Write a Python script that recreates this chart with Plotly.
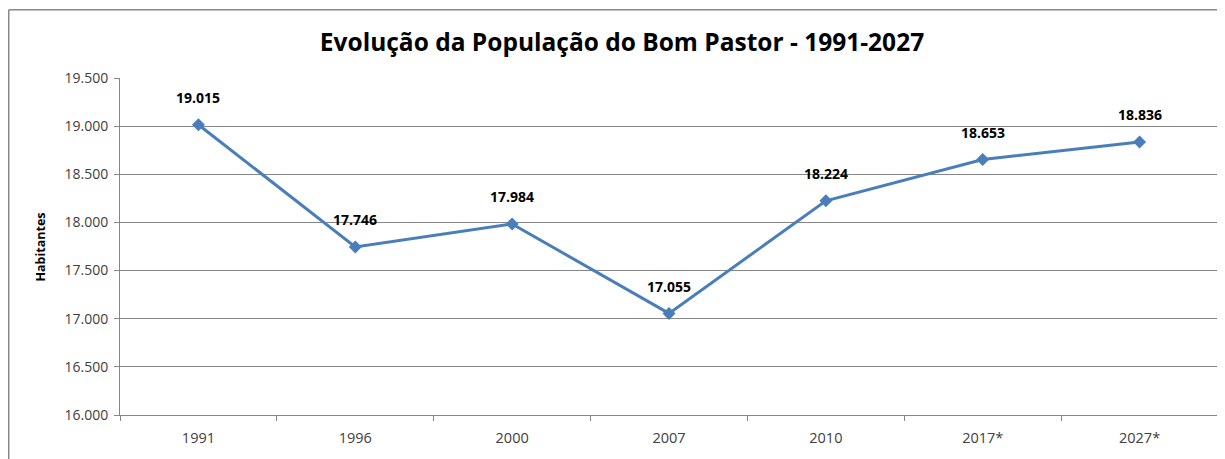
import plotly.graph_objects as go

years = ["1991", "1996", "2000", "2007", "2010", "2017*", "2027*"]
population = [19015, 17746, 17984, 17055, 18224, 18653, 18836]
title_text = "Evolução da População do Bom Pastor - 1991-2027"
y_title = "Habitantes"

# page body has an 8px margin; compensate
OFF = 8
W, H = 1225 - OFF, 459 - OFF
ml, mr, mt, mb = 120 - OFF, 7, 78 - OFF, 44
pw = W - ml - mr
ph = H - mt - mb

fig = go.Figure()
fig.add_trace(go.Scatter(
    x=years, y=population, mode="lines+markers",
    line=dict(color="#4A7EBB", width=3),
    marker=dict(symbol="diamond", size=10, color="#4A7EBB"),
    hoverinfo="skip", showlegend=False,
))

for i, v in enumerate(population):
    fig.add_annotation(
        x=i, y=v, xref="x", yref="y", text=f"{v:,}".replace(",", "."), showarrow=False,
        yshift=27, font=dict(family="Open Sans", size=14, color="#000000", weight="bold"),
    )

fig.add_annotation(
    x=(40 - OFF - ml) / pw, y=0.5, xref="paper", yref="paper",
    text=f"<b>{y_title}</b>", textangle=-90, showarrow=False,
    xanchor="center", yanchor="middle",
    font=dict(family="Open Sans", size=12.5, color="#000000"),
)

fig.update_layout(
    width=W, height=H,
    margin=dict(l=ml, r=mr, t=mt, b=mb, autoexpand=False),
    paper_bgcolor="white", plot_bgcolor="white",
    separators=",.",
    title=dict(text=f"<b>{title_text}</b>", x=(622 - OFF) / W, xref="container",
               xanchor="center", y=1 - (42 - OFF) / H, yanchor="middle",
               font=dict(family="Open Sans", size=24.5, color="#000000")),
    xaxis=dict(
        type="category", tickson="boundaries", ticks="outside", ticklen=5,
        tickcolor="#868686", showline=True, linecolor="#868686", linewidth=1,
        showgrid=False, tickfont=dict(family="Open Sans", size=14.5, color="#404040"),
        ticklabelstandoff=10,
        range=[-0.5, 6.5], fixedrange=True, automargin=False,
    ),
    yaxis=dict(
        range=[16000, 19500], dtick=500, tickformat=",d",
        ticks="outside", ticklen=5, tickcolor="#868686",
        showline=True, linecolor="#868686", linewidth=1,
        showgrid=True, gridcolor="#868686", gridwidth=1,
        tickfont=dict(family="Open Sans", size=14, color="#404040"),
        ticklabelstandoff=3,
        zeroline=False, fixedrange=True, automargin=False,
    ),
)

# outer chart frame (left and top edges)
fx = (8 - OFF - ml + 0.75) / pw
fy = 1 + (mt - (9 - OFF) - 0.75) / ph
fig.add_shape(type="line", xref="paper", yref="paper", x0=fx, x1=fx, y0=-1, y1=fy,
              line=dict(color="#888888", width=1.5))
fig.add_shape(type="line", xref="paper", yref="paper", x0=fx, x1=2, y0=fy, y1=fy,
              line=dict(color="#888888", width=1.5))

fig.write_html("out.html")
